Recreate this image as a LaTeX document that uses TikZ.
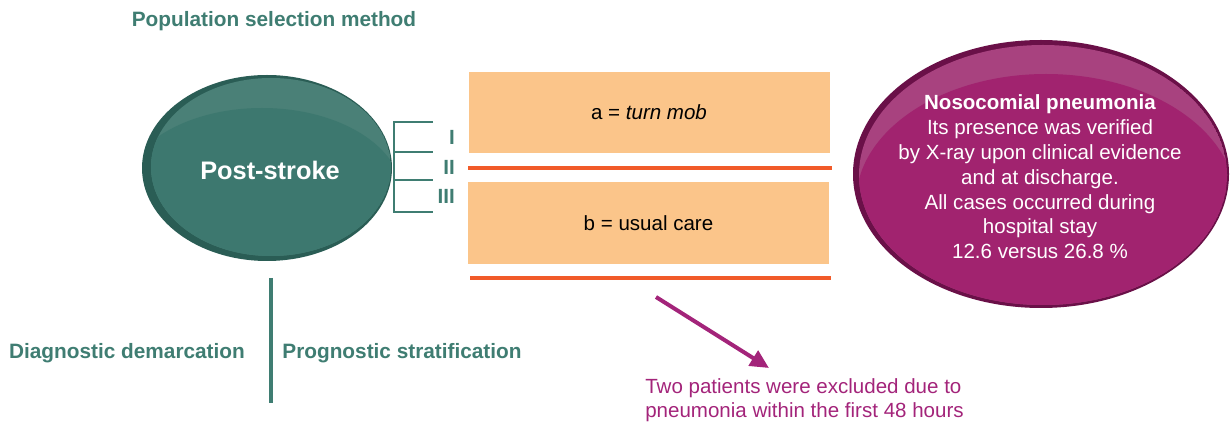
\documentclass[tikz,border=0pt]{standalone}
\usepackage{fontspec}
\setmainfont{Liberation Sans}
\usepackage{tikz}
\usetikzlibrary{arrows.meta,positioning}

\definecolor{tealtext}{HTML}{3F7D72}
\definecolor{tealmain}{HTML}{3D786F}
\definecolor{tealdark}{HTML}{2A5D55}
\definecolor{teallight}{HTML}{4A8077}
\definecolor{boxorange}{HTML}{FBC58A}
\definecolor{ruleorange}{HTML}{F15A29}
\definecolor{plummain}{HTML}{A1236F}
\definecolor{plumdark}{HTML}{6A1048}
\definecolor{plumlight}{HTML}{A8427F}
\definecolor{plumtext}{HTML}{A3247A}

\begin{document}
\begin{tikzpicture}[x=0.75pt,y=-0.75pt]
\tikzstyle{heading} = [text=tealtext,font=\fontsize{15.6}{18.4}\selectfont\bfseries]
\tikzstyle{arm} = [fill=boxorange,minimum width=270.75pt,minimum height=61pt,inner sep=0pt,font=\fontsize{15.4}{18.4}\selectfont]
\tikzstyle{rule} = [draw=ruleorange,line width=3pt]
\tikzstyle{bracket} = [draw=tealtext,line width=2.2pt]
\tikzstyle{level} = [text=tealtext,font=\fontsize{15.4}{18.4}\selectfont\bfseries,anchor=east,inner sep=0pt]

\useasboundingbox (0,0) rectangle (1231,427);

% population ellipse
\fill[tealdark] (267,168) ellipse (125 and 93);
\begin{scope}
\clip (271,167) ellipse (120 and 89);
\fill[teallight] (271,167) ellipse (120 and 89);
\fill[tealmain] (262,195) ellipse (140 and 87);
\end{scope}
\node[text=white,font=\fontsize{19}{22}\selectfont\bfseries] (post) at (270,170) {Post-stroke};

\node[heading] (title) at (274,21) {Population selection method};

% levels
\coordinate (b1) at (433,122);
\coordinate (b2) at (433,152);
\coordinate (b3) at (433,180);
\coordinate (b4) at (433,212);
\draw[bracket] (b1) -| (394,212) -- (b4);
\draw[bracket] (394,152) -- (b2);
\draw[bracket] (394,180) -- (b3);
\node[level] (l1) at (455,137) {I};
\node[level] (l2) at (455,167) {II};
\node[level] (l3) at (455,196) {III};

% randomised arms
\node[arm] (a) at (649,112.5) {a = \textit{turn mob}};
\node[arm] (b) at (648.5,223) {b = usual care};
\draw[rule] ([yshift=-11.25pt]a.south west) -- ([yshift=-11.25pt,xshift=1.5pt]a.south east);
\draw[rule] ([yshift=-10.5pt,xshift=2pt]b.south west) -- ([yshift=-10.5pt,xshift=1.5pt]b.south east);

% outcome ellipse
\fill[plumdark] (1041,174) ellipse (188 and 134);
\begin{scope}
\clip (1043,175) ellipse (184 and 130);
\fill[plumlight] (1043,175) ellipse (184 and 130);
\fill[plummain] (1046,202) ellipse (190 and 128);
\end{scope}
\node[text=white,align=center,font=\fontsize{15.4}{18.6}\selectfont] (outcome) at (1040,177)
  {\textbf{Nosocomial pneumonia}\\Its presence was verified\\by X-ray upon clinical evidence\\and at discharge.\\All cases occurred during\\hospital stay\\12.6 versus 26.8 \%};

% exclusion note
\node[text=plumtext,align=left,anchor=north west,inner sep=0pt,font=\fontsize{15.4}{18.4}\selectfont] (excl) at (645,378)
  {Two patients were excluded due to\\pneumonia within the first 48 hours};
\coordinate (from) at (656,297);
\coordinate (to) at (769,368);
\draw[plumtext,line width=3pt,-{Triangle[length=14pt,width=13pt]}] (from) -- (to);

% demarcation
\coordinate (top) at (271,278);
\coordinate (bot) at (271,403);
\draw[draw=tealtext,line width=2.4pt] (top) -- (bot);
\node[heading] (diag) at (127,353) {Diagnostic demarcation};
\node[heading] (prog) at (402,353) {Prognostic stratification};

\end{tikzpicture}
\end{document}
